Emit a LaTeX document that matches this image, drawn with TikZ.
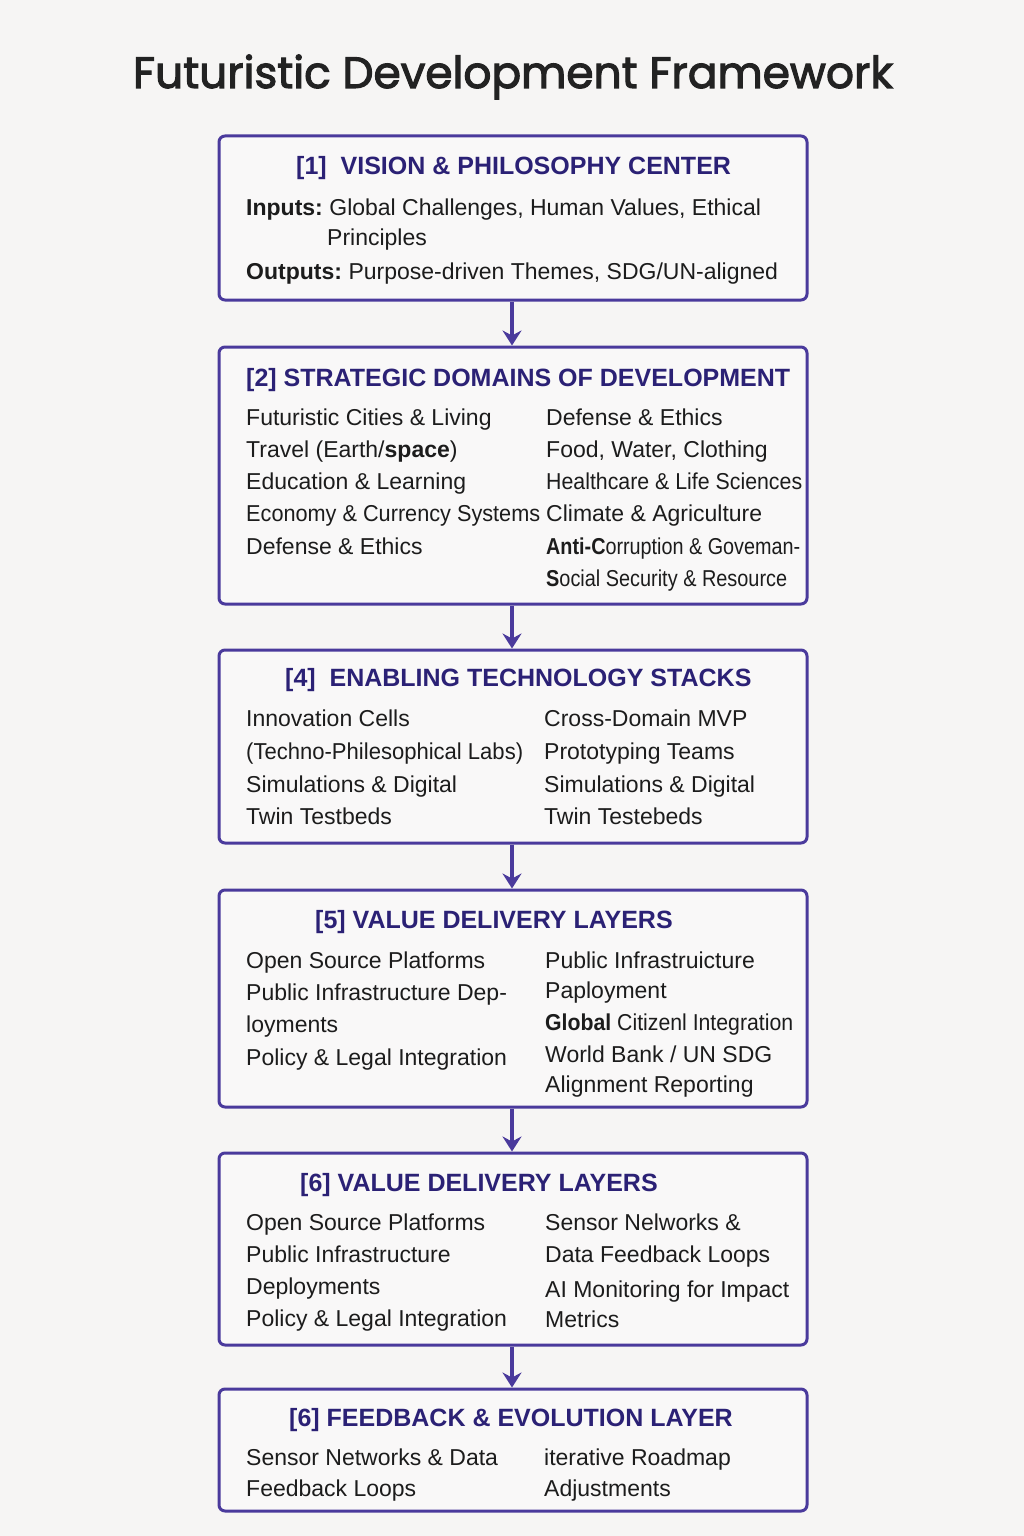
\documentclass[tikz,border=0pt]{standalone}
\usepackage{fontspec}
\usepackage{graphicx}
\setmainfont{Liberation Sans}
\newfontfamily\titlefont{Poppins}[FakeBold=2.5]
\usetikzlibrary{arrows.meta}
\definecolor{bgc}{HTML}{F6F5F4}
\definecolor{boxfill}{HTML}{F9F8F8}
\definecolor{bordc}{HTML}{4A3A9C}
\definecolor{headc}{HTML}{2B2175}
\definecolor{bodyc}{HTML}{1C1C1C}
\definecolor{titlec}{HTML}{222222}
\newcommand\fitto[2]{\resizebox{#1}{\height}{#2}}
\tikzset{
  layerbox/.style={draw=bordc, line width=3pt, rounded corners=6pt, fill=boxfill, inner sep=0pt},
  headtxt/.style={anchor=base west, inner sep=0pt, text=headc, font=\fontsize{25}{30}\selectfont\bfseries},
  bodytxt/.style={anchor=base west, inner sep=0pt, text=bodyc, font=\fontsize{23}{28}\selectfont},
  flowarrow/.style={draw=bordc, line width=3.2pt, -{Stealth[length=15pt,width=19pt,inset=5pt]}}
}
\begin{document}
\begin{tikzpicture}[x=1pt,y=-1pt]
\fill[bgc] (0,0) rectangle (1024,1536);
\useasboundingbox (0,0) rectangle (1024,1536);

% title
\node[anchor=base, inner sep=0pt, text=titlec] (title) at (513,88)
  {\resizebox{760pt}{!}{\titlefont\fontsize{44}{50}\selectfont Futuristic Development Framework}};

% boxes
\node[layerbox, minimum width=588pt, minimum height=164pt] (b1) at (513,218) {};
\node[layerbox, minimum width=588pt, minimum height=257pt] (b2) at (513,475.5) {};
\node[layerbox, minimum width=588pt, minimum height=193pt] (b3) at (513,746.5) {};
\node[layerbox, minimum width=588pt, minimum height=217pt] (b4) at (513,998.5) {};
\node[layerbox, minimum width=588pt, minimum height=192pt] (b5) at (513,1249) {};
\node[layerbox, minimum width=588pt, minimum height=122pt] (b6) at (513,1450) {};

% arrows
\draw[flowarrow] ([xshift=-1pt]b1.south) -- ([xshift=-1pt]b2.north);
\draw[flowarrow] ([xshift=-1pt]b2.south) -- ([xshift=-1pt]b3.north);
\draw[flowarrow] ([xshift=-1pt]b3.south) -- ([xshift=-1pt]b4.north);
\draw[flowarrow] ([xshift=-1pt]b4.south) -- ([xshift=-1pt]b5.north);
\draw[flowarrow] ([xshift=-1pt]b5.south) -- ([xshift=-1pt]b6.north);

% box 1
\node[headtxt] (h1) at (296,175) {[1]\ \ VISION \& PHILOSOPHY CENTER};
\node[bodytxt] (t1a) at (246,215) {\textbf{Inputs:}\hspace{-2pt} Global Challenges, Human Values, Ethical};
\node[bodytxt] (t1b) at (327,245) {Principles};
\node[bodytxt] (t1c) at (246,279) {\textbf{Outputs:}\hspace{-2pt} Purpose-driven Themes, SDG/UN-aligned};

% box 2
\node[headtxt] (h2) at (246,386) {[2] STRATEGIC DOMAINS OF DEVELOPMENT};
\node[bodytxt] (t2a) at (246,425) {Futuristic Cities \& Living};
\node[bodytxt] (t2b) at (246,457) {Travel (Earth/\textbf{space})};
\node[bodytxt] (t2c) at (246,489) {Education \& Learning};
\node[bodytxt] (t2d) at (246,521) {\fitto{294pt}{Economy \& Currency Systems}};
\node[bodytxt] (t2e) at (246,554) {Defense \& Ethics};
\node[bodytxt] (t2f) at (546,425) {Defense \& Ethics};
\node[bodytxt] (t2g) at (546,457) {Food, Water, Clothing};
\node[bodytxt] (t2h) at (546,489) {\fitto{256pt}{Healthcare \& Life Sciences}};
\node[bodytxt] (t2i) at (546,521) {Climate \& Agriculture};
\node[bodytxt] (t2j) at (546,554) {\fitto{254pt}{\textbf{Anti-C}orruption \& Goveman-}};
\node[bodytxt] (t2k) at (546,586) {\fitto{241pt}{\textbf{S}ocial Security \& Resource}};

% box 3
\node[headtxt] (h3) at (285,686) {[4]\ \ ENABLING TECHNOLOGY STACKS};
\node[bodytxt] (t3a) at (246,726) {Innovation Cells};
\node[bodytxt] (t3b) at (246,759) {\fitto{277pt}{(Techno-Philesophical Labs)}};
\node[bodytxt] (t3c) at (246,792) {Simulations \& Digital};
\node[bodytxt] (t3d) at (246,824) {Twin Testbeds};
\node[bodytxt] (t3e) at (544,726) {Cross-Domain MVP};
\node[bodytxt] (t3f) at (544,759) {Prototyping Teams};
\node[bodytxt] (t3g) at (544,792) {Simulations \& Digital};
\node[bodytxt] (t3h) at (544,824) {Twin Testebeds};

% box 4
\node[headtxt] (h4) at (315,928) {[5] VALUE DELIVERY LAYERS};
\node[bodytxt] (t4a) at (246,968) {Open Source Platforms};
\node[bodytxt] (t4b) at (246,1000) {Public Infrastructure Dep-};
\node[bodytxt] (t4c) at (246,1032) {loyments};
\node[bodytxt] (t4d) at (246,1065) {Policy \& Legal Integration};
\node[bodytxt] (t4e) at (545,968) {Public Infrastruicture};
\node[bodytxt] (t4f) at (545,998) {Paployment};
\node[bodytxt] (t4g) at (545,1030) {\fitto{248pt}{\textbf{Global} Citizenl Integration}};
\node[bodytxt] (t4h) at (545,1062) {World Bank / UN SDG};
\node[bodytxt] (t4i) at (545,1092) {Alignment Reporting};

% box 5
\node[headtxt] (h5) at (300,1191) {[6] VALUE DELIVERY LAYERS};
\node[bodytxt] (t5a) at (246,1230) {Open Source Platforms};
\node[bodytxt] (t5b) at (246,1262) {Public Infrastructure};
\node[bodytxt] (t5c) at (246,1294) {Deployments};
\node[bodytxt] (t5d) at (246,1326) {Policy \& Legal Integration};
\node[bodytxt] (t5e) at (545,1230) {Sensor Nelworks \&};
\node[bodytxt] (t5f) at (545,1262) {Data Feedback Loops};
\node[bodytxt] (t5g) at (545,1297) {AI Monitoring for Impact};
\node[bodytxt] (t5h) at (545,1327) {Metrics};

% box 6
\node[headtxt] (h6) at (289,1426) {[6] FEEDBACK \& EVOLUTION LAYER};
\node[bodytxt] (t6a) at (246,1465) {Sensor Networks \& Data};
\node[bodytxt] (t6b) at (246,1496) {Feedback Loops};
\node[bodytxt] (t6c) at (544,1465) {iterative Roadmap};
\node[bodytxt] (t6d) at (544,1496) {Adjustments};
\end{tikzpicture}
\end{document}
